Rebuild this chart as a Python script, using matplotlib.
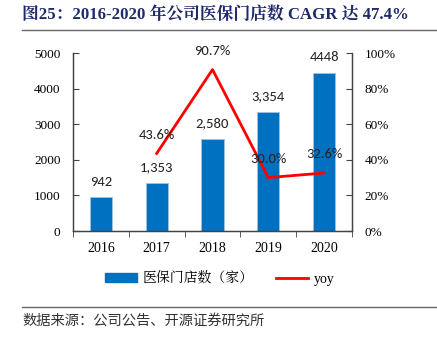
import matplotlib
matplotlib.use("Agg")
import matplotlib.pyplot as plt
from matplotlib.lines import Line2D
from matplotlib.patches import Patch
import numpy as np

years = ["2016", "2017", "2018", "2019", "2020"]
stores = [942, 1353, 2580, 3354, 4448]
store_labels = ["942", "1,353", "2,580", "3,354", "4448"]
yoy_years = ["2017", "2018", "2019", "2020"]
yoy = [43.6, 90.7, 30.0, 32.6]
left_ticks = [0, 1000, 2000, 3000, 4000, 5000]
right_ticks = [0, 20, 40, 60, 80, 100]

serif = ["Liberation Serif", "Noto Serif CJK SC", "Noto Sans CJK SC"]
cjk = ["Noto Sans CJK SC", "DejaVu Sans"]
label_font = ["Carlito", "Liberation Sans", "DejaVu Sans"]

W, H = 437, 341
fig = plt.figure(figsize=(W / 100, H / 100), dpi=100)

ax = fig.add_axes([73 / W, 1 - 231 / H, (352 - 73) / W, (231 - 53) / H])
ax2 = ax.twinx()

x = np.arange(len(years))
bar_color = "#0070C0"
ax.bar(x, stores, width=0.4, color=bar_color, edgecolor="#9DC3E6", linewidth=0.6, zorder=2)
for xi, v, lab in zip(x, stores, store_labels):
    ax.annotate(lab, (xi, v), xytext=(0, 7), textcoords="offset points",
                ha="center", va="bottom", fontsize=10.5, family=label_font, color="#222222")

ax.set_xlim(-0.5, len(years) - 0.5)
ax.set_ylim(0, 5000)
ax.set_yticks(left_ticks)
ax.set_yticklabels([str(t) for t in left_ticks], family=serif, fontsize=9.5)
ax.set_xticks(x)
ax.set_xticklabels(years, family=serif, fontsize=10)
ax.tick_params(axis="x", length=0, pad=8)
ax.set_xticks(np.arange(-0.5, len(years)), minor=True)
ax.tick_params(axis="x", which="minor", length=4, direction="out", color="#444444")
ax.tick_params(axis="y", direction="in", length=4, color="#444444", pad=9)

yoy_x = [years.index(y) for y in yoy_years]
ax2.plot(yoy_x, yoy, color="#FF0000", linewidth=2, zorder=3)
for xi, v in zip(yoy_x, yoy):
    ax2.annotate(f"{v:.1f}%", (xi, v), xytext=(0, 9), textcoords="offset points",
                 ha="center", va="bottom", fontsize=10.5, family=label_font, color="#222222")
ax2.set_ylim(0, 100)
ax2.set_yticks(right_ticks)
ax2.set_yticklabels([f"{t}%" for t in right_ticks], family=serif, fontsize=9.5)
ax2.tick_params(axis="y", direction="in", length=4, color="#444444", pad=9)

for a in (ax, ax2):
    a.spines["top"].set_visible(False)
    for s in ("left", "right", "bottom"):
        a.spines[s].set_color("#444444")
        a.spines[s].set_linewidth(0.9)

handles = [Patch(facecolor=bar_color, edgecolor=bar_color),
           Line2D([0], [0], color="#FF0000", linewidth=2)]
fig.legend(handles, ["医保门店数（家）", "yoy"], loc="center",
           bbox_to_anchor=(220 / W, 1 - 279 / H), ncol=2, frameon=False,
           prop={"family": serif, "size": 10}, handlelength=2.3, handleheight=0.6,
           columnspacing=1.6, handletextpad=0.4)

fig.text(22 / W, 1 - 15 / H, "图25：2016-2020 年公司医保门店数 CAGR 达 47.4%",
         family=serif, fontweight="bold", fontsize=12.1, color="#1F2A6B",
         ha="left", va="center")
fig.add_artist(Line2D([22 / W, 1.0], [1 - 30 / H] * 2, color="#666666", linewidth=1))
fig.add_artist(Line2D([22 / W, 1.0], [1 - 307 / H] * 2, color="#666666", linewidth=1))
fig.text(22 / W, 1 - 321 / H, "数据来源：公司公告、开源证券研究所",
         family=cjk, fontsize=10.3, color="#333333", ha="left", va="center")

fig.savefig("out.png", dpi=100)
